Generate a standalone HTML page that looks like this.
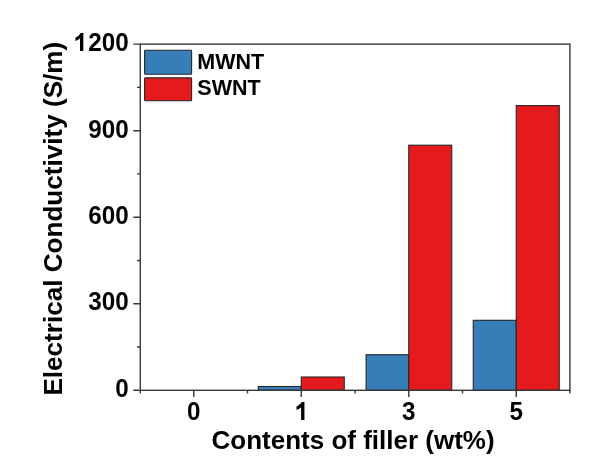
<!DOCTYPE html>
<html>
<head>
<meta charset="utf-8">
<style>
html,body{margin:0;padding:0;background:#fff;}
body{width:601px;height:473px;overflow:hidden;}
svg{display:block;}
text{font-family:"Liberation Sans",sans-serif;font-weight:bold;fill:#000;}
.soft{filter:blur(0.35px);}
</style>
</head>
<body>
<svg class="soft" width="601" height="473" viewBox="0 0 601 473">
<rect x="0" y="0" width="601" height="473" fill="#fff"/>
<!-- bars -->
<g stroke="#262626" stroke-width="1.1">
<rect x="258.25" y="386.5" width="43" height="3.8" fill="#377eb8"/>
<rect x="301.25" y="377" width="43" height="13.3" fill="#e41a1c"/>
<rect x="366.1" y="354.7" width="42.65" height="35.6" fill="#377eb8"/>
<rect x="408.75" y="145.2" width="43" height="245.1" fill="#e41a1c"/>
<rect x="473.25" y="320.3" width="43" height="70" fill="#377eb8"/>
<rect x="516.25" y="105.6" width="43" height="284.7" fill="#e41a1c"/>
</g>
<!-- axes frame -->
<g stroke="#383838" stroke-width="1.4" fill="none">
<rect x="140.3" y="44.1" width="429.6" height="346.2"/>
<path d="M133.3 44.1H140.3M133.3 130.7H140.3M133.3 217.2H140.3M133.3 303.7H140.3M133.3 390.3H140.3"/>
<path d="M137 87.4H140.3M137 173.9H140.3M137 260.5H140.3M137 347H140.3"/>
<path d="M193.75 390.3V397M301.25 390.3V397M408.75 390.3V397M516.25 390.3V397"/>
<path d="M140.3 390.3V393.6M247.5 390.3V393.6M355 390.3V393.6M462.5 390.3V393.6M569.9 390.3V393.6"/>
</g>
<!-- legend -->
<rect x="144.6" y="50.3" width="47" height="24" rx="0.8" fill="#377eb8" stroke="#262626" stroke-width="1.1"/>
<rect x="144.6" y="77.9" width="47" height="22.8" rx="0.8" fill="#e41a1c" stroke="#262626" stroke-width="1.1"/>
<text x="197.3" y="69.2" font-size="21.5">MWNT</text>
<text x="197.3" y="94.9" font-size="21.5">SWNT</text>
<!-- y tick labels -->
<g font-size="25" text-anchor="end" transform="translate(128.7,0) scale(0.97,1) translate(-128.7,0)">
<text x="128.7" y="51.00">200</text>
<path transform="translate(71.7,51.00) scale(0.012207,-0.012207)" d="M838 0L557 0L557 1046C500 990 430 944 350 900C290 868 230 842 172 822L172 1105C262 1140 350 1190 435 1255C520 1320 575 1390 615 1466L838 1466Z"/>
<text x="128.7" y="137.60">900</text>
<text x="128.7" y="224.10">600</text>
<text x="128.7" y="309.80">300</text>
<text x="128.7" y="397.20">0</text>
</g>
<!-- x tick labels -->
<g font-size="25" text-anchor="middle">
<text transform="translate(193.75,419.9) scale(0.97,1)">0</text>
<text transform="translate(408.75,419.9) scale(0.97,1)">3</text>
<text transform="translate(516.25,419.9) scale(0.97,1)">5</text>
<g transform="translate(301.25,419.9) scale(0.97,1)"><path transform="translate(-6.95,0) scale(0.012207,-0.012207)" d="M838 0L557 0L557 1046C500 990 430 944 350 900C290 868 230 842 172 822L172 1105C262 1140 350 1190 435 1255C520 1320 575 1390 615 1466L838 1466Z"/></g>
</g>
<text x="353.1" y="449.3" font-size="26" text-anchor="middle">Contents of filler (wt%)</text>
<text transform="translate(62.2,218.7) rotate(-90)" font-size="26.1" text-anchor="middle">Electrical Conductivity (S/m)</text>
</svg>
</body>
</html>
